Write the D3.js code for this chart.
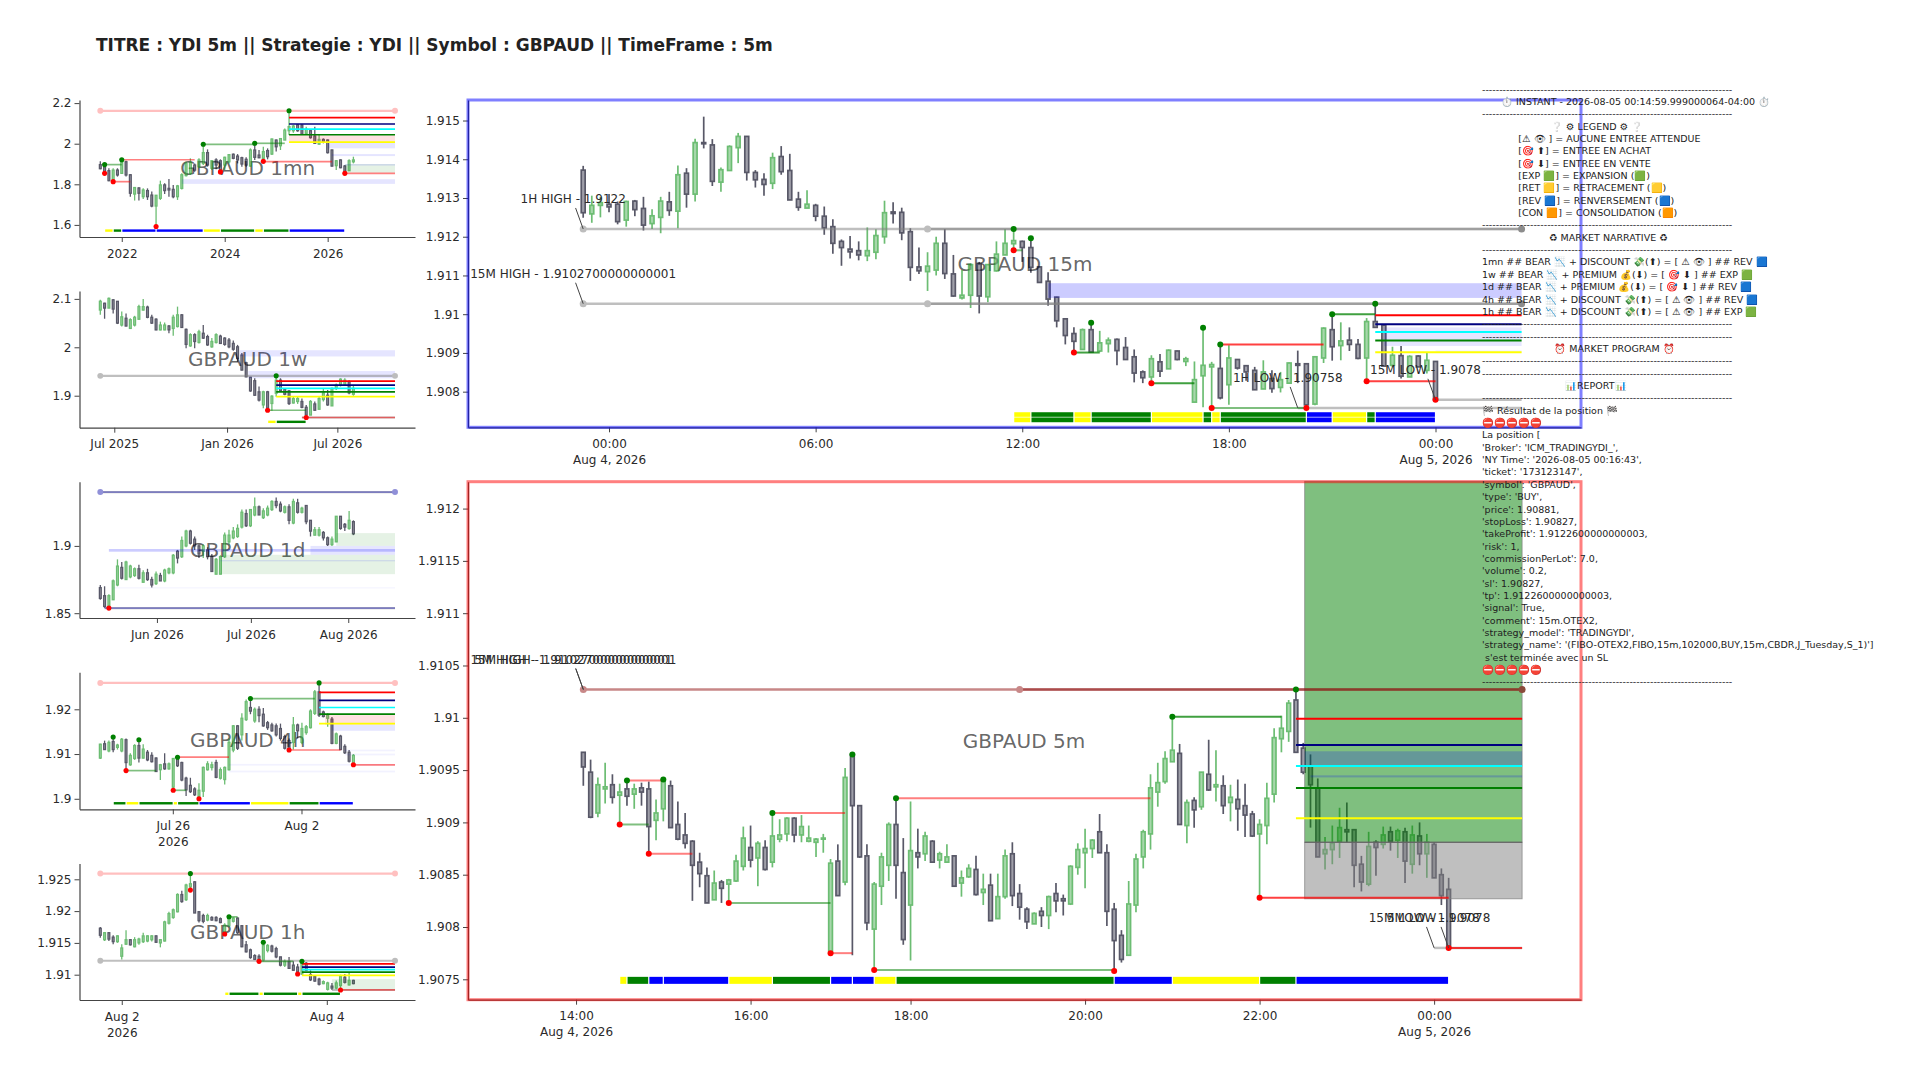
<!DOCTYPE html>
<html>
<head>
<meta charset="utf-8">
<script src="https://cdn.jsdelivr.net/npm/d3@7"></script>
<style>
body { margin: 0; background: #fff; }
text { font-family: "DejaVu Sans", sans-serif; }
</style>
</head>
<body>
<svg id="chart" width="1920" height="1080"></svg>
<script>
// candles are [open, high, low, close]
const candles1mn = [[1.897,1.913,1.874,1.877],[1.887,1.903,1.846,1.862],[1.867,1.879,1.815,1.818],[1.821,1.879,1.813,1.870],[1.870,1.879,1.838,1.846],[1.854,1.923,1.851,1.907],[1.911,1.916,1.838,1.846],[1.847,1.849,1.739,1.756],[1.752,1.785,1.720,1.784],[1.782,1.785,1.720,1.756],
[1.739,1.780,1.728,1.772],[1.769,1.780,1.723,1.739],[1.747,1.764,1.687,1.693],[1.693,1.747,1.592,1.746],[1.731,1.818,1.723,1.797],[1.797,1.805,1.752,1.769],[1.780,1.826,1.739,1.772],[1.775,1.797,1.731,1.739],[1.739,1.797,1.723,1.792],[1.780,1.854,1.775,1.847],
[1.843,1.911,1.838,1.903],[1.854,1.928,1.846,1.907],[1.895,1.903,1.862,1.870],[1.887,1.928,1.879,1.920],[1.903,1.998,1.895,1.956],[1.956,1.972,1.887,1.895],[1.879,1.920,1.870,1.916],[1.920,1.928,1.874,1.895],[1.916,1.923,1.862,1.870],[1.895,1.936,1.870,1.933],
[1.911,1.949,1.903,1.946],[1.948,1.952,1.923,1.928],[1.939,1.949,1.903,1.920],[1.931,1.936,1.887,1.900],[1.923,1.933,1.887,1.895],[1.890,1.977,1.887,1.969],[1.969,2.002,1.920,1.933],[1.944,1.969,1.928,1.931],[1.928,1.985,1.920,1.961],[1.966,1.977,1.923,1.936],
[1.949,2.026,1.944,2.023],[2.018,2.021,1.961,1.985],[1.990,2.026,1.969,2.025],[2.018,2.075,2.018,2.067],[2.064,2.162,2.043,2.084],[2.064,2.092,2.054,2.087],[2.093,2.097,2.059,2.064],[2.092,2.097,2.043,2.046],[2.051,2.084,2.046,2.071],[2.064,2.071,2.025,2.030],
[2.038,2.084,1.998,2.002],[1.998,2.043,1.995,2.021],[2.021,2.026,2.002,2.010],[2.018,2.021,1.952,1.956],[1.969,1.972,1.887,1.890],[1.892,1.920,1.870,1.916],[1.920,1.923,1.879,1.882],[1.890,1.895,1.851,1.862],[1.867,1.923,1.866,1.916],[1.911,1.936,1.903,1.920]];

const candles1w = [[2.077,2.098,2.067,2.095],[2.091,2.092,2.059,2.081],[2.081,2.103,2.081,2.101],[2.098,2.100,2.070,2.079],[2.095,2.095,2.048,2.050],[2.046,2.074,2.043,2.063],[2.060,2.070,2.043,2.044],[2.039,2.060,2.038,2.057],[2.046,2.065,2.043,2.062],[2.058,2.088,2.057,2.084],
[2.077,2.100,2.076,2.084],[2.083,2.086,2.060,2.062],[2.062,2.067,2.048,2.050],[2.058,2.060,2.035,2.036],[2.036,2.053,2.035,2.046],[2.036,2.051,2.035,2.046],[2.044,2.046,2.029,2.036],[2.039,2.067,2.024,2.062],[2.043,2.084,2.041,2.067],[2.067,2.069,2.041,2.041],
[2.037,2.039,1.998,2.006],[2.003,2.029,2.001,2.026],[2.026,2.029,1.998,2.012],[2.010,2.036,2.008,2.032],[2.029,2.046,2.017,2.019],[2.022,2.026,2.003,2.005],[2.001,2.019,1.999,2.012],[2.010,2.029,2.008,2.026],[2.023,2.026,2.007,2.008],[2.019,2.021,2.003,2.006],
[2.015,2.019,1.998,2.001],[2.008,2.014,1.993,1.996],[2.001,2.005,1.970,1.977],[1.984,1.988,1.952,1.953],[1.968,1.970,1.938,1.939],[1.938,1.939,1.908,1.910],[1.931,1.936,1.900,1.901],[1.908,1.919,1.888,1.891],[1.881,1.910,1.874,1.908],[1.908,1.910,1.869,1.874],
[1.884,1.901,1.869,1.899],[1.905,1.945,1.898,1.932],[1.932,1.936,1.908,1.910],[1.913,1.915,1.901,1.903],[1.910,1.912,1.881,1.884],[1.885,1.898,1.884,1.894],[1.888,1.898,1.883,1.894],[1.888,1.894,1.874,1.876],[1.876,1.881,1.855,1.860],[1.860,1.891,1.860,1.888],
[1.883,1.888,1.869,1.870],[1.872,1.898,1.872,1.894],[1.892,1.915,1.888,1.906],[1.901,1.912,1.879,1.881],[1.879,1.917,1.879,1.915],[1.915,1.925,1.912,1.922],[1.922,1.936,1.919,1.934],[1.922,1.936,1.920,1.932],[1.929,1.932,1.903,1.906],[1.903,1.922,1.900,1.915]];

const candles1d = [[1.869,1.871,1.860,1.861],[1.863,1.870,1.854,1.855],[1.855,1.864,1.854,1.863],[1.860,1.875,1.860,1.874],[1.871,1.890,1.870,1.885],[1.884,1.888,1.875,1.876],[1.875,1.889,1.875,1.888],[1.877,1.886,1.876,1.885],[1.878,1.884,1.877,1.883],[1.883,1.886,1.875,1.876],
[1.873,1.882,1.873,1.880],[1.880,1.883,1.874,1.875],[1.875,1.877,1.869,1.871],[1.872,1.881,1.871,1.879],[1.878,1.880,1.874,1.874],[1.874,1.883,1.873,1.882],[1.880,1.884,1.879,1.883],[1.880,1.894,1.879,1.893],[1.896,1.897,1.887,1.891],[1.892,1.907,1.891,1.904],
[1.900,1.912,1.899,1.911],[1.911,1.912,1.901,1.902],[1.905,1.907,1.897,1.900],[1.900,1.901,1.891,1.894],[1.896,1.901,1.891,1.900],[1.897,1.899,1.890,1.892],[1.892,1.894,1.881,1.881],[1.879,1.891,1.879,1.890],[1.879,1.893,1.879,1.892],[1.892,1.910,1.891,1.908],
[1.903,1.912,1.901,1.908],[1.906,1.914,1.905,1.911],[1.907,1.916,1.906,1.913],[1.914,1.927,1.913,1.925],[1.924,1.927,1.914,1.915],[1.915,1.927,1.914,1.927],[1.923,1.936,1.922,1.929],[1.929,1.930,1.923,1.923],[1.921,1.928,1.920,1.926],[1.923,1.930,1.922,1.928],
[1.927,1.934,1.926,1.933],[1.933,1.936,1.928,1.930],[1.931,1.933,1.925,1.926],[1.925,1.930,1.924,1.929],[1.929,1.931,1.916,1.919],[1.917,1.935,1.916,1.933],[1.932,1.935,1.924,1.925],[1.925,1.929,1.924,1.928],[1.930,1.930,1.916,1.918],[1.919,1.919,1.907,1.911],
[1.908,1.914,1.908,1.912],[1.908,1.914,1.907,1.912],[1.910,1.911,1.904,1.906],[1.906,1.907,1.900,1.901],[1.901,1.907,1.900,1.905],[1.903,1.922,1.903,1.922],[1.922,1.922,1.912,1.913],[1.916,1.917,1.911,1.914],[1.913,1.926,1.912,1.919],[1.918,1.919,1.908,1.909]];

const candles4h = [[1.9091,1.9123,1.9089,1.9122],[1.9123,1.9130,1.9109,1.9110],[1.9107,1.9130,1.9104,1.9126],[1.9128,1.9138,1.9104,1.9110],[1.9115,1.9123,1.9110,1.9120],[1.9107,1.9136,1.9104,1.9133],[1.9132,1.9135,1.9063,1.9081],[1.9076,1.9102,1.9074,1.9097],[1.9090,1.9122,1.9087,1.9119],[1.9119,1.9131,1.9081,1.9091],
[1.9091,1.9122,1.9090,1.9111],[1.9104,1.9109,1.9084,1.9087],[1.9097,1.9104,1.9081,1.9083],[1.9091,1.9093,1.9061,1.9061],[1.9065,1.9078,1.9042,1.9076],[1.9078,1.9102,1.9065,1.9067],[1.9067,1.9081,1.9065,1.9078],[1.9026,1.9091,1.9019,1.9090],[1.9090,1.9093,1.9071,1.9074],[1.9081,1.9083,1.9039,1.9042],
[1.9046,1.9049,1.9006,1.9020],[1.9030,1.9047,1.9013,1.9016],[1.9022,1.9026,1.9006,1.9009],[1.9004,1.9035,1.9000,1.9019],[1.9017,1.9072,1.9004,1.9070],[1.9065,1.9084,1.9063,1.9078],[1.9070,1.9083,1.9063,1.9076],[1.9081,1.9087,1.9046,1.9048],[1.9046,1.9070,1.9043,1.9065],[1.9043,1.9072,1.9032,1.9070],
[1.9065,1.9135,1.9063,1.9126],[1.9109,1.9165,1.9104,1.9163],[1.9163,1.9165,1.9109,1.9113],[1.9143,1.9191,1.9130,1.9180],[1.9177,1.9222,1.9174,1.9217],[1.9204,1.9224,1.9189,1.9196],[1.9174,1.9204,1.9170,1.9200],[1.9200,1.9207,1.9171,1.9186],[1.9189,1.9203,1.9161,1.9163],[1.9170,1.9174,1.9154,1.9159],
[1.9165,1.9170,1.9150,1.9152],[1.9163,1.9168,1.9139,1.9143],[1.9157,1.9168,1.9130,1.9135],[1.9139,1.9143,1.9110,1.9113],[1.9130,1.9135,1.9109,1.9110],[1.9126,1.9183,1.9110,1.9165],[1.9165,1.9168,1.9135,1.9152],[1.9126,1.9170,1.9122,1.9157],[1.9148,1.9165,1.9143,1.9161],[1.9159,1.9200,1.9157,1.9196],
[1.9191,1.9243,1.9187,1.9239],[1.9239,1.9259,1.9183,1.9187],[1.9194,1.9197,1.9182,1.9184],[1.9180,1.9191,1.9161,1.9187],[1.9178,1.9183,1.9122,1.9124],[1.9124,1.9148,1.9122,1.9145],[1.9140,1.9143,1.9109,1.9110],[1.9117,1.9122,1.9100,1.9103],[1.9104,1.9109,1.9081,1.9084],[1.9076,1.9100,1.9074,1.9097]];

const candles1h = [[1.9173,1.9175,1.9158,1.9162],[1.9155,1.9167,1.9153,1.9166],[1.9166,1.9167,1.9153,1.9156],[1.9159,1.9162,1.9148,1.9152],[1.9152,1.9162,1.9150,1.9161],[1.9129,1.9148,1.9124,1.9142],[1.9148,1.9170,1.9147,1.9155],[1.9155,1.9156,1.9146,1.9147],[1.9144,1.9159,1.9143,1.9155],[1.9150,1.9158,1.9147,1.9156],
[1.9152,1.9166,1.9150,1.9161],[1.9153,1.9162,1.9151,1.9161],[1.9155,1.9162,1.9152,1.9161],[1.9161,1.9162,1.9150,1.9151],[1.9150,1.9156,1.9143,1.9155],[1.9153,1.9185,1.9152,1.9183],[1.9181,1.9199,1.9179,1.9196],[1.9190,1.9204,1.9188,1.9202],[1.9199,1.9228,1.9198,1.9226],[1.9226,1.9232,1.9213,1.9215],
[1.9218,1.9243,1.9216,1.9241],[1.9238,1.9259,1.9233,1.9243],[1.9246,1.9247,1.9197,1.9197],[1.9199,1.9200,1.9182,1.9185],[1.9193,1.9196,1.9181,1.9184],[1.9186,1.9196,1.9184,1.9193],[1.9190,1.9192,1.9185,1.9186],[1.9190,1.9192,1.9184,1.9185],[1.9188,1.9190,1.9181,1.9182],[1.9166,1.9181,1.9162,1.9178],
[1.9177,1.9191,1.9175,1.9189],[1.9184,1.9190,1.9182,1.9189],[1.9189,1.9190,1.9164,1.9166],[1.9177,1.9178,1.9143,1.9144],[1.9147,1.9153,1.9135,1.9136],[1.9139,1.9141,1.9125,1.9127],[1.9130,1.9132,1.9123,1.9124],[1.9129,1.9132,1.9121,1.9123],[1.9123,1.9150,1.9121,1.9146],[1.9138,1.9148,1.9135,1.9146],
[1.9145,1.9147,1.9135,1.9137],[1.9141,1.9144,1.9126,1.9128],[1.9128,1.9128,1.9113,1.9115],[1.9115,1.9124,1.9112,1.9121],[1.9121,1.9128,1.9109,1.9110],[1.9115,1.9121,1.9106,1.9107],[1.9112,1.9117,1.9101,1.9104],[1.9101,1.9121,1.9100,1.9120],[1.9118,1.9120,1.9106,1.9107],[1.9100,1.9107,1.9090,1.9092],
[1.9097,1.9098,1.9089,1.9090],[1.9093,1.9095,1.9083,1.9085],[1.9086,1.9091,1.9085,1.9089],[1.9077,1.9089,1.9075,1.9087],[1.9082,1.9087,1.9076,1.9079],[1.9079,1.9091,1.9077,1.9087],[1.9083,1.9100,1.9076,1.9097],[1.9096,1.9101,1.9086,1.9088],[1.9084,1.9104,1.9083,1.9091],[1.9091,1.9092,1.9085,1.9086]];

const candles15m = [[1.91372,1.91383,1.91249,1.91262],[1.91259,1.91306,1.91236,1.91281],[1.91281,1.91303,1.91250,1.91288],[1.91284,1.91310,1.91263,1.91277],[1.91284,1.91291,1.91232,1.91239],[1.91243,1.91293,1.91226,1.91291],[1.91292,1.91295,1.91253,1.91270],[1.91273,1.91303,1.91216,1.91230],[1.91234,1.91271,1.91220,1.91254],[1.91250,1.91303,1.91209,1.91292],
[1.91290,1.91316,1.91254,1.91268],[1.91266,1.91384,1.91222,1.91360],[1.91364,1.91377,1.91275,1.91310],[1.91310,1.91453,1.91291,1.91443],[1.91443,1.91510,1.91428,1.91440],[1.91437,1.91452,1.91331,1.91343],[1.91341,1.91379,1.91316,1.91373],[1.91371,1.91436,1.91371,1.91433],[1.91430,1.91468,1.91390,1.91459],[1.91459,1.91460,1.91345,1.91366],
[1.91366,1.91372,1.91327,1.91347],[1.91348,1.91364,1.91306,1.91335],[1.91338,1.91417,1.91323,1.91404],[1.91407,1.91434,1.91360,1.91368],[1.91371,1.91414,1.91295,1.91295],[1.91297,1.91316,1.91267,1.91276],[1.91274,1.91320,1.91274,1.91284],[1.91281,1.91285,1.91240,1.91253],[1.91253,1.91278,1.91205,1.91223],[1.91226,1.91245,1.91156,1.91183],
[1.91188,1.91193,1.91125,1.91172],[1.91168,1.91202,1.91144,1.91161],[1.91164,1.91188,1.91139,1.91153],[1.91151,1.91224,1.91137,1.91164],[1.91160,1.91219,1.91142,1.91203],[1.91200,1.91293,1.91182,1.91262],[1.91264,1.91289,1.91234,1.91260],[1.91263,1.91275,1.91191,1.91210],[1.91213,1.91222,1.91086,1.91121],[1.91122,1.91172,1.91104,1.91112],
[1.91110,1.91160,1.91060,1.91124],[1.91114,1.91200,1.91100,1.91183],[1.91183,1.91220,1.91091,1.91105],[1.91104,1.91153,1.91045,1.91047],[1.91042,1.91114,1.91038,1.91049],[1.91049,1.91131,1.91016,1.91128],[1.91129,1.91135,1.91002,1.91047],[1.91045,1.91129,1.91031,1.91128],[1.91112,1.91188,1.91110,1.91155],[1.91153,1.91220,1.91153,1.91183],
[1.91182,1.91220,1.91164,1.91190],[1.91188,1.91190,1.91135,1.91172],[1.91172,1.91196,1.91107,1.91121],[1.91122,1.91124,1.91082,1.91082],[1.91085,1.91108,1.91022,1.91039],[1.91044,1.91045,1.90966,1.90983],[1.90988,1.90990,1.90922,1.90945],[1.90950,1.90966,1.90901,1.90930],[1.90909,1.90963,1.90909,1.90960],[1.90960,1.90978,1.90902,1.90902],
[1.90905,1.90957,1.90902,1.90926],[1.90924,1.90940,1.90901,1.90933],[1.90935,1.90937,1.90868,1.90906],[1.90914,1.90941,1.90883,1.90883],[1.90890,1.90909,1.90824,1.90848],[1.90851,1.90855,1.90822,1.90836],[1.90838,1.90894,1.90825,1.90885],[1.90877,1.90897,1.90838,1.90853],[1.90859,1.90909,1.90859,1.90907],[1.90905,1.90906,1.90881,1.90883],
[1.90878,1.90890,1.90866,1.90885],[1.90773,1.90878,1.90773,1.90831],[1.90841,1.90965,1.90760,1.90868],[1.90864,1.90877,1.90758,1.90870],[1.90860,1.90922,1.90780,1.90784],[1.90818,1.90920,1.90766,1.90887],[1.90883,1.90883,1.90857,1.90861],[1.90867,1.90868,1.90828,1.90851],[1.90855,1.90864,1.90805,1.90805],[1.90807,1.90881,1.90807,1.90851],
[1.90834,1.90855,1.90797,1.90808],[1.90811,1.90851,1.90798,1.90831],[1.90822,1.90875,1.90821,1.90874],[1.90872,1.90906,1.90822,1.90868],[1.90872,1.90872,1.90758,1.90766],[1.90768,1.90891,1.90765,1.90890],[1.90887,1.90966,1.90874,1.90964],[1.90960,1.91000,1.90880,1.90916],[1.90919,1.90979,1.90881,1.90931],[1.90933,1.90966,1.90905,1.90922],
[1.90922,1.90936,1.90884,1.90886],[1.90887,1.90990,1.90827,1.90981],[1.90981,1.91027,1.90966,1.90966],[1.90972,1.90972,1.90866,1.90866],[1.90868,1.90916,1.90864,1.90894],[1.90893,1.90918,1.90834,1.90840],[1.90838,1.90894,1.90838,1.90891],[1.90892,1.90894,1.90864,1.90864],[1.90855,1.90900,1.90847,1.90881],[1.90878,1.90878,1.90779,1.90779]];

const candles5m = [[1.90967,1.90967,1.90935,1.90953],[1.90948,1.90960,1.90904,1.90905],[1.90909,1.90943,1.90905,1.90936],[1.90932,1.90957,1.90918,1.90934],[1.90936,1.90946,1.90918,1.90924],[1.90926,1.90937,1.90898,1.90929],[1.90932,1.90940,1.90916,1.90925],[1.90927,1.90937,1.90913,1.90932],[1.90933,1.90938,1.90916,1.90929],[1.90932,1.90939,1.90870,1.90896],
[1.90902,1.90922,1.90883,1.90909],[1.90913,1.90941,1.90901,1.90941],[1.90935,1.90940,1.90895,1.90895],[1.90898,1.90920,1.90883,1.90884],[1.90888,1.90909,1.90875,1.90880],[1.90882,1.90883,1.90825,1.90859],[1.90862,1.90871,1.90838,1.90851],[1.90849,1.90857,1.90823,1.90823],[1.90826,1.90854,1.90826,1.90842],[1.90843,1.90845,1.90823,1.90837],
[1.90841,1.90846,1.90823,1.90845],[1.90844,1.90869,1.90843,1.90863],[1.90858,1.90896,1.90854,1.90885],[1.90876,1.90897,1.90857,1.90864],[1.90866,1.90882,1.90839,1.90880],[1.90876,1.90883,1.90854,1.90855],[1.90862,1.90909,1.90857,1.90887],[1.90884,1.90903,1.90881,1.90888],[1.90889,1.90905,1.90882,1.90904],[1.90904,1.90905,1.90881,1.90888],
[1.90888,1.90907,1.90881,1.90896],[1.90882,1.90897,1.90881,1.90885],[1.90881,1.90885,1.90867,1.90884],[1.90884,1.90889,1.90871,1.90885],[1.90776,1.90865,1.90775,1.90861],[1.90863,1.90879,1.90830,1.90830],[1.90843,1.90952,1.90840,1.90943],[1.90965,1.90965,1.90773,1.90916],[1.90916,1.90916,1.90866,1.90867],[1.90868,1.90879,1.90797,1.90804],
[1.90798,1.90843,1.90759,1.90841],[1.90839,1.90871,1.90821,1.90867],[1.90859,1.90900,1.90844,1.90898],[1.90898,1.90923,1.90827,1.90859],[1.90852,1.90885,1.90783,1.90788],[1.90821,1.90920,1.90768,1.90873],[1.90871,1.90894,1.90856,1.90867],[1.90870,1.90891,1.90863,1.90887],[1.90882,1.90883,1.90862,1.90862],[1.90864,1.90872,1.90856,1.90870],
[1.90862,1.90879,1.90862,1.90867],[1.90868,1.90868,1.90839,1.90839],[1.90842,1.90854,1.90829,1.90847],[1.90848,1.90860,1.90847,1.90856],[1.90855,1.90868,1.90830,1.90831],[1.90833,1.90851,1.90821,1.90836],[1.90840,1.90851,1.90806,1.90806],[1.90808,1.90851,1.90808,1.90829],[1.90829,1.90874,1.90827,1.90868],[1.90870,1.90881,1.90820,1.90830],
[1.90832,1.90841,1.90807,1.90819],[1.90817,1.90819,1.90798,1.90805],[1.90803,1.90814,1.90803,1.90813],[1.90815,1.90819,1.90800,1.90811],[1.90811,1.90830,1.90798,1.90829],[1.90832,1.90842,1.90814,1.90825],[1.90827,1.90831,1.90811,1.90825],[1.90822,1.90859,1.90821,1.90858],[1.90857,1.90880,1.90850,1.90874],[1.90871,1.90894,1.90837,1.90875],
[1.90875,1.90884,1.90866,1.90883],[1.90891,1.90908,1.90871,1.90871],[1.90871,1.90879,1.90801,1.90815],[1.90817,1.90823,1.90758,1.90787],[1.90792,1.90797,1.90766,1.90769],[1.90773,1.90844,1.90773,1.90822],[1.90821,1.90870,1.90814,1.90865],[1.90867,1.90893,1.90856,1.90891],[1.90889,1.90946,1.90874,1.90933],[1.90929,1.90957,1.90915,1.90938],
[1.90939,1.90968,1.90937,1.90961],[1.90958,1.91001,1.90958,1.90969],[1.90966,1.90975,1.90898,1.90898],[1.90897,1.90922,1.90880,1.90919],[1.90921,1.90924,1.90895,1.90912],[1.90915,1.90948,1.90912,1.90948],[1.90946,1.90979,1.90930,1.90931],[1.90934,1.90969,1.90920,1.90936],[1.90935,1.90945,1.90908,1.90916],[1.90919,1.90936,1.90901,1.90924],
[1.90922,1.90941,1.90892,1.90913],[1.90916,1.90937,1.90886,1.90907],[1.90908,1.90911,1.90886,1.90887],[1.90889,1.90903,1.90828,1.90898],[1.90897,1.90938,1.90879,1.90923],[1.90927,1.90990,1.90919,1.90981],[1.90980,1.91002,1.90967,1.90990],[1.90987,1.91017,1.90977,1.91014],[1.91017,1.91026,1.90967,1.90967],[1.90971,1.90976,1.90946,1.90948],
[1.90954,1.90965,1.90895,1.90936],[1.90933,1.90942,1.90867,1.90867],[1.90870,1.90886,1.90855,1.90874],[1.90874,1.90897,1.90860,1.90880],[1.90882,1.90914,1.90866,1.90895],[1.90893,1.90919,1.90881,1.90891],[1.90893,1.90893,1.90838,1.90859],[1.90860,1.90868,1.90834,1.90843],[1.90841,1.90891,1.90839,1.90877],[1.90881,1.90883,1.90849,1.90876],
[1.90879,1.90896,1.90875,1.90888],[1.90891,1.90896,1.90873,1.90882],[1.90883,1.90894,1.90866,1.90892],[1.90891,1.90895,1.90842,1.90863],[1.90860,1.90897,1.90851,1.90888],[1.90887,1.90900,1.90859,1.90870],[1.90870,1.90889,1.90847,1.90881],[1.90879,1.90881,1.90847,1.90847],[1.90850,1.90856,1.90821,1.90830],[1.90836,1.90847,1.90780,1.90780]];

// zones: [from candle, to candle, low, high, kind]
const zones1mn = [[44,68.7,2.005,2.042,"pink"],[53,68.7,1.977,2.005,"blue"],[54,68.7,1.939,1.949,"blue"],[57,68.7,1.857,1.900,"green"],[57,68.7,1.892,1.900,"blue"],[19,68.7,1.802,1.825,"blue"]];
const zones1w = [[32.5,68.7,1.981,1.994,"blue"],[34.5,68.7,1.936,1.951,"blue"]];
const zones1d = [[2,68.7,1.8957,1.8977,"blueStrong"],[28,68.7,1.8790,1.8934,"green"],[55,68.7,1.9000,1.9095,"green"],[49,68.7,1.8934,1.9000,"blue"],[28,68.7,1.8885,1.8895,"blue"],[3,68.7,1.8684,1.8692,"pale"]];
const zones4h = [[52.4,68.7,1.9165,1.9187,"pink"],[54,68.7,1.9152,1.9165,"blue"],[57,68.7,1.9106,1.9110,"pale"],[57,68.7,1.9097,1.9101,"pale"],[30,68.7,1.9074,1.9078,"pale"],[30,68.7,1.9059,1.9063,"pale"]];
const zones1h = [[54,68.7,1.9077,1.9093,"green"]];
const zones15m = [[54,109,1.91042,1.91080,"blueStrong"],[93,109,1.90918,1.90966,"blue"],[99,109,1.90900,1.90907,"pale"]];
const zones5m = [[99.2,129.1,1.90954,1.90968,"blueStrong"],[100,129.1,1.90943,1.90945,"blueStrong"]];

// horizontal levels: [from candle, to candle, price, kind]
const levels1mn = [[0,68.7,2.162,"pinkLine"],[1,5,1.897,"swingUp"],[24,36,1.997,"swingUp"],[36,43,2.002,"swingUp"],[3,7,1.813,"swingDown"],[5,22,1.921,"swingDown"],[38,54,1.912,"swingDown"],[57,68.7,1.854,"swingDown"],
  [44,68.7,2.128,"red"],[44,68.7,2.097,"navy"],[44,68.7,2.072,"cyan"],[44,68.7,2.044,"lime"],[44,68.7,2.008,"yellow"]];
const levels1w = [[0,68.7,1.941,"grayLine"],[39,48,1.870,"swingUp"],[47,68.7,1.855,"grayLine"],[47,68.7,1.855,"swingDown"],
  [41,68.7,1.930,"red"],[41,68.7,1.922,"navy"],[41,68.7,1.915,"cyan"],[41,68.7,1.908,"lime"],[41,68.7,1.898,"yellow"]];
const levels1d = [[0,68.7,1.940,"grayLine"],[0,68.7,1.940,"blueLine"],[1,68.7,1.8538,"grayLine"],[1,68.7,1.8538,"blueLine"]];
const levels4h = [[0,68.7,1.9259,"pinkLine"],[6,13,1.9063,"swingUp"],[17,20,1.9019,"swingUp"],[35,50,1.9224,"swingUp"],[18,30,1.9093,"swingDown"],[44,56,1.9109,"swingDown"],[59,68.7,1.9076,"swingDown"],
  [51,68.7,1.9238,"red"],[51,68.7,1.9220,"navy"],[51,68.7,1.9204,"cyan"],[51,68.7,1.9189,"lime"],[51,68.7,1.9168,"yellow"]];
const levels1h = [[0,68.7,1.9259,"pinkLine"],[0,68.7,1.9122,"grayLine"],[37,45,1.9121,"swingUp"],[30,32,1.9191,"swingUp"],[54,68.7,1.9076,"grayLine"],[56,68.7,1.9076,"swingDown"],
  [47,68.7,1.9117,"red"],[47,68.7,1.9112,"navy"],[47,68.7,1.9108,"cyan"],[47,68.7,1.9104,"lime"],[47,68.7,1.9099,"yellow"]];
const levels15m = [[0,109,1.9122,"grayLine"],[40,109,1.9122,"grayLine"],[0,109,1.91027,"grayLine"],[40,109,1.91027,"grayLine"],[83,109,1.90758,"grayLine"],[99,109,1.90779,"grayLine"],
  [50,51,1.91165,"swingUp"],[57,60,1.90901,"swingUpStrong"],[66,71,1.90822,"swingUpStrong"],[73,84,1.90758,"swingUp"],[87,92,1.91000,"swingUpStrong"],[74,86,1.90922,"swingDownStrong"],[91,99,1.90827,"swingDownStrong"],
  [92,109,1.90997,"red"],[92,109,1.90974,"navy"],[92,109,1.90954,"cyan"],[92,109,1.90932,"lime"],[92,109,1.90902,"yellow"]];
const levels5m = [[0,129.1,1.91027,"rosyLine"],[60,129.1,1.91027,"rosyLine"],[5,9,1.90898,"swingUp"],[20,34,1.90823,"swingUp"],[40,73,1.90759,"swingUp"],[81,96,1.91001,"swingUpStrong"],
  [6,11,1.90940,"swingDown"],[9,15,1.90870,"swingDown"],[26,36,1.90909,"swingDown"],[34,37,1.90775,"swingDown"],[43,78,1.90923,"swingDown"],[93,119,1.90828,"swingDownStrong"],[117,119,1.90780,"grayLine"],[119,129.1,1.90780,"grayLine"],[119,129.1,1.90780,"swingDownStrong"],
  [98,129.1,1.90999,"red"],[98,129.1,1.90974,"navy"],[98,129.1,1.90954,"cyan"],[98,129.1,1.90933,"lime"],[98,129.1,1.90904,"yellow"]];

// swing and end markers: [candle, price, kind]
const dots1mn = [[1,1.897,"high"],[5,1.921,"high"],[24,1.997,"high"],[36,2.002,"high"],[44,2.162,"high"],[1,1.854,"low"],[3,1.813,"low"],[13,1.592,"low"],[28,1.861,"low"],[38,1.913,"low"],[57,1.854,"low"],[0,2.162,"pink"],[68.7,2.162,"pink"]];
const dots1w = [[41,1.941,"high"],[39,1.870,"low"],[48,1.855,"low"],[0,1.941,"gray"],[68.7,1.941,"gray"]];
const dots1d = [[2,1.8538,"low"],[0,1.940,"blue"],[68.7,1.940,"blue"]];
const dots4h = [[3,1.9138,"high"],[9,1.9132,"high"],[18,1.9093,"high"],[35,1.9224,"high"],[51,1.9259,"high"],[6,1.9063,"low"],[17,1.9019,"low"],[23,1.9000,"low"],[44,1.9109,"low"],[59,1.9076,"low"],[0,1.9259,"pink"],[68.7,1.9259,"pink"]];
const dots1h = [[21,1.9259,"high"],[30,1.9191,"high"],[38,1.9151,"high"],[47,1.9121,"high"],[21,1.9233,"low"],[29,1.9164,"low"],[37,1.9121,"low"],[46,1.9101,"low"],[56,1.9076,"low"],[0,1.9259,"pink"],[68.7,1.9259,"pink"],[0,1.9122,"gray"],[68.7,1.9122,"gray"]];
const dots15m = [[50,1.9122,"high"],[52,1.91196,"high"],[59,1.90978,"high"],[72,1.90965,"high"],[74,1.90922,"high"],[87,1.91000,"high"],[92,1.91027,"high"],[50,1.91165,"low"],[57,1.90901,"low"],[66,1.90822,"low"],[73,1.90758,"low"],[84,1.90758,"low"],[91,1.90827,"low"],[99,1.90779,"low"],
  [0,1.9122,"gray"],[40,1.9122,"gray"],[109,1.9122,"darkGray"],[0,1.91027,"gray"],[40,1.91027,"gray"],[109,1.91027,"darkGray"]];
const dots5m = [[6,1.90940,"high"],[11,1.90941,"high"],[26,1.90909,"high"],[37,1.90965,"high"],[43,1.90923,"high"],[81,1.91001,"high"],[98,1.91027,"high"],[5,1.90898,"low"],[9,1.90870,"low"],[20,1.90823,"low"],[34,1.90775,"low"],[40,1.90759,"low"],[73,1.90758,"low"],[93,1.90828,"low"],[119,1.90780,"low"],
  [0,1.91027,"rosy"],[60,1.91027,"rosy"],[129.1,1.91027,"darkRosy"]];

// market phase strip: [from candle, to candle, phase]
const phases1mn = [[1,3,"ret"],[3,5,"exp"],[5,13,"rev"],[13,24,"rev"],[24,28,"ret"],[28,36,"exp"],[36,38,"ret"],[38,44,"exp"],[44,57,"rev"]];
const phases1w = [[39,41,"ret"],[41,48,"exp"]];
const phases4h = [[3,6,"exp"],[6,9,"ret"],[9,17,"exp"],[17,18,"ret"],[18,23,"exp"],[23,35,"rev"],[35,44,"ret"],[44,51,"exp"],[51,59,"rev"]];
const phases1h = [[29,30,"ret"],[30,37,"exp"],[37,38,"ret"],[38,46,"exp"],[46,47,"ret"],[47,56,"exp"]];
const phases15m = [[50,52,"ret"],[52,57,"exp"],[57,59,"ret"],[59,66,"exp"],[66,72,"ret"],[72,73,"exp"],[73,74,"ret"],[74,84,"exp"],[84,87,"rev"],[87,91,"ret"],[91,92,"exp"],[92,99,"rev"]];
const phases5m = [[5,6,"ret"],[6,9,"exp"],[9,11,"rev"],[11,20,"rev"],[20,26,"ret"],[26,34,"exp"],[34,37,"rev"],[37,40,"rev"],[40,43,"ret"],[43,73,"exp"],[73,81,"rev"],[81,93,"ret"],[93,98,"exp"],[98,119,"rev"]];

// annotated levels: [candle, price, text]
const notes15m = [[0,1.9122,"1H HIGH - 1.9122"],[0,1.91027,"15M HIGH - 1.9102700000000001"],[83,1.90758,"1H LOW - 1.90758"],[99,1.90779,"15M LOW - 1.9078"]];
const notes5m = [[0,1.91027,"15M HIGH - 1.9102700000000001"],[0,1.91027,"5M HIGH - 1.9102700000000001"],[117,1.9078,"15M LOW - 1.9078"],[119,1.9078,"5M LOW - 1.9078"]];

// trade of the 5m chart
const entryPrice = 1.90881, stopPrice = 1.90827, targetPrice = 1.91226;
const tradeFrom = 99.2, tradeTo = 129.1;

const ticks1mn = [1.6,1.8,2,2.2], ticks1w = [1.9,2,2.1], ticks1d = [1.85,1.9], ticks4h = [1.9,1.91,1.92], ticks1h = [1.91,1.915,1.92,1.925];
const ticks15m = [1.908,1.909,1.91,1.911,1.912,1.913,1.914,1.915];
const ticks5m = [1.9075,1.908,1.9085,1.909,1.9095,1.91,1.9105,1.911,1.9115,1.912];
const xTicks1mn = [[5,"2022"],[29,"2024"],[53,"2026"]];
const xTicks1w = [[3.26,"Jul 2025"],[29.55,"Jan 2026"],[55.26,"Jul 2026"]];
const xTicks1d = [[13.2,"Jun 2026"],[35.1,"Jul 2026"],[57.8,"Aug 2026"]];
const xTicks4h = [[16.9,"Jul 26\n2026"],[46.9,"Aug 2"]];
const xTicks1h = [[5,"Aug 2\n2026"],[52.8,"Aug 4"]];
const xTicks15m = [[3,"00:00\nAug 4, 2026"],[27,"06:00"],[51,"12:00"],[75,"18:00"],[99,"00:00\nAug 5, 2026"]];
const xTicks5m = [[-1,"14:00\nAug 4, 2026"],[23,"16:00"],[45,"18:00"],[69,"20:00"],[93,"22:00"],[117,"00:00\nAug 5, 2026"]];

const dash = "-".repeat(73);
const reportLines = [dash,
"⏱️ INSTANT - 2026-08-05 00:14:59.999000064-04:00 ⏱️",dash,"❔ ⚙ LEGEND ⚙ ❔",
"[⚠ 👁 ] = AUCUNE ENTREE ATTENDUE","[🎯 ⬆] = ENTREE EN ACHAT","[🎯 ⬇] = ENTREE EN VENTE","[EXP 🟩] = EXPANSION (🟩)","[RET 🟨] = RETRACEMENT (🟨)","[REV 🟦] = RENVERSEMENT (🟦)","[CON 🟧] = CONSOLIDATION (🟧)",dash,
"♻ MARKET NARRATIVE ♻",dash,
"1mn ## BEAR 📉 + DISCOUNT 💸(⬆) = [ ⚠ 👁 ] ## REV 🟦","1w ## BEAR 📉 + PREMIUM 💰(⬇) = [ 🎯 ⬇ ] ## EXP 🟩","1d ## BEAR 📉 + PREMIUM 💰(⬇) = [ 🎯 ⬇ ] ## REV 🟦","4h ## BEAR 📉 + DISCOUNT 💸(⬆) = [ ⚠ 👁 ] ## REV 🟦","1h ## BEAR 📉 + DISCOUNT 💸(⬆) = [ ⚠ 👁 ] ## EXP 🟩",dash,dash,
"⏰ MARKET PROGRAM ⏰",dash,dash,"📊REPORT📊",dash,"🏁 Résultat de la position 🏁","⛔⛔⛔⛔⛔","La position [",
"'Broker': 'ICM_TRADINGYDI_',","'NY Time': '2026-08-05 00:16:43',","'ticket': '173123147',","'symbol': 'GBPAUD',","'type': 'BUY',","'price': 1.90881,","'stopLoss': 1.90827,","'takeProfit': 1.9122600000000003,","'risk': 1,","'commissionPerLot': 7.0,","'volume': 0.2,","'sl': 1.90827,","'tp': 1.9122600000000003,","'signal': True,","'comment': 15m.OTEX2,","'strategy_model': 'TRADINGYDI',","'strategy_name': '(FIBO-OTEX2,FIBO,15m,102000,BUY,15m,CBDR,J_Tuesday,S_1)']",
" s'est terminée avec un SL","⛔⛔⛔⛔⛔",dash];
const reportIndent = {1:19,3:69,4:36.3,5:36.3,6:36.3,7:36.3,8:36.3,9:36.3,10:36.3,12:67,21:72.3,24:83};

const zoneStyle = {
  blue:{fill:"rgba(0,0,255,0.1)"}, blueStrong:{fill:"rgba(0,0,255,0.2)"}, pale:{fill:"rgba(0,0,255,0.05)"},
  green:{fill:"rgba(0,128,0,0.1)"}, pink:{fill:"rgba(255,0,0,0.12)"}
};
const levelStyle = {
  red:{stroke:"#ff0000",w:2,o:1}, navy:{stroke:"#000080",w:2,o:1}, cyan:{stroke:"#00ffff",w:2,o:1}, lime:{stroke:"#008000",w:2,o:1}, yellow:{stroke:"#ffff00",w:2,o:1},
  swingUp:{stroke:"#008000",w:2,o:0.5}, swingUpStrong:{stroke:"#008000",w:2,o:0.75}, swingDown:{stroke:"#ff0000",w:2,o:0.5}, swingDownStrong:{stroke:"#ff0000",w:2,o:0.75},
  pinkLine:{stroke:"#ff0000",w:2.5,o:0.25}, grayLine:{stroke:"#808080",w:2.5,o:0.5}, blueLine:{stroke:"#0000c0",w:2,o:0.35}, rosyLine:{stroke:"#901010",w:2.5,o:0.5}
};
const dotStyle = {high:{fill:"#008000",r:3},low:{fill:"#ff0000",r:3},pink:{fill:"#ffc0c0",r:3.5},gray:{fill:"#bdbdbd",r:3.5},darkGray:{fill:"#8c8c8c",r:3.5},blue:{fill:"#9090d8",r:3.5},rosy:{fill:"#c88888",r:3.5},darkRosy:{fill:"#8a4a3a",r:3.5}};
const phaseColor = {ret:"#ffff00",exp:"#008000",rev:"#0000ff"};

const svg = d3.select("#chart");

function drawPanel(p) {
  const x = d3.scaleLinear().domain(p.xDomain).range([p.left, p.right]);
  const y = d3.scaleLinear().domain(p.yDomain).range([p.bottom, p.top]);
  const g = svg.append("g");

  g.append("g").attr("transform", `translate(0,${p.bottom})`)
    .call(d3.axisBottom(x).tickValues(p.xTicks.map(d => d[0])).tickSize(5).tickSizeOuter(0)
      .tickFormat((d, i) => p.xTicks[i][1]))
    .call(a => a.selectAll(".tick text").each(function () {
      const t = d3.select(this), lines = t.text().split("\n");
      t.text(null).attr("y", 0).attr("dy", null);
      lines.forEach((l, i) => t.append("tspan").attr("x", 0).attr("y", 20.5 + i * 16).text(l));
    }));
  g.append("g").attr("transform", `translate(${p.left},0)`)
    .call(d3.axisLeft(y).tickValues(p.yTicks).tickSize(5).tickSizeOuter(0).tickFormat(d => String(d)));
  g.selectAll(".tick text").attr("font-size", 12).attr("fill", "#2a2a2a").style("font-family", '"DejaVu Sans"');
  g.selectAll(".domain, .tick line").attr("stroke", "#444").attr("stroke-width", 1);
  g.selectAll(".domain").attr("stroke-width", 1.2);

  // watermark
  g.append("text").attr("x", p.markX).attr("y", p.markY).attr("text-anchor", "middle").attr("dominant-baseline", "central")
    .attr("font-size", 20).attr("fill", "#555").attr("fill-opacity", 0.9).text(p.name);

  // candles
  const c = g.append("g").selectAll("g").data(p.candles).enter().append("g")
    .attr("opacity", 0.65);
  c.append("line")
    .attr("x1", (d, i) => x(i)).attr("x2", (d, i) => x(i))
    .attr("y1", d => y(d[1])).attr("y2", d => y(d[2]))
    .attr("stroke", d => d[3] >= d[0] ? "#1f9b29" : "#000018").attr("stroke-width", p.wick);
  c.append("rect")
    .attr("x", (d, i) => x(i) - p.bodyWidth / 2).attr("width", p.bodyWidth)
    .attr("y", d => y(Math.max(d[0], d[3]))).attr("height", d => Math.abs(y(d[0]) - y(d[3])))
    .attr("fill", d => d[3] >= d[0] ? "#79c37f" : "#6d6c7c")
    .attr("stroke", d => d[3] >= d[0] ? "#1f9b29" : "#000018").attr("stroke-width", p.wick);

  // zones over candles
  g.append("g").selectAll("rect").data(p.zones).enter().append("rect")
    .attr("x", d => x(d[0])).attr("width", d => x(d[1]) - x(d[0]))
    .attr("y", d => y(d[3])).attr("height", d => y(d[2]) - y(d[3]))
    .attr("fill", d => zoneStyle[d[4]].fill);

  if (p.trade) {
    const t = p.trade;
    g.append("rect").attr("x", x(t.from)).attr("width", x(t.to) - x(t.from))
      .attr("y", y(t.target)).attr("height", y(t.entry) - y(t.target))
      .attr("fill", "rgba(0,128,0,0.5)").attr("stroke", "rgba(128,128,128,0.7)").attr("stroke-width", 1);
    g.append("rect").attr("x", x(t.from)).attr("width", x(t.to) - x(t.from))
      .attr("y", y(t.entry)).attr("height", y(t.stop) - y(t.entry))
      .attr("fill", "rgba(128,128,128,0.5)").attr("stroke", "rgba(128,128,128,0.7)").attr("stroke-width", 1);
    g.append("line").attr("x1", x(t.from)).attr("x2", x(t.to)).attr("y1", y(t.entry)).attr("y2", y(t.entry))
      .attr("stroke", "#555").attr("stroke-width", 0.8);
    g.selectAll(".trade-zone").data(t.zones).enter().append("rect").attr("class", "trade-zone")
      .attr("x", d => x(d[0])).attr("width", d => x(d[1]) - x(d[0]))
      .attr("y", d => y(d[3])).attr("height", d => y(d[2]) - y(d[3]))
      .attr("fill", d => zoneStyle[d[4]].fill);
  }

  g.append("g").selectAll("line").data(p.levels).enter().append("line")
    .attr("x1", d => x(d[0])).attr("x2", d => x(d[1]))
    .attr("y1", d => y(d[2])).attr("y2", d => y(d[2]))
    .attr("stroke", d => levelStyle[d[3]].stroke)
    .attr("stroke-width", d => levelStyle[d[3]].w * p.lineScale)
    .attr("stroke-opacity", d => levelStyle[d[3]].o);

  // phase strip
  g.append("g").selectAll("rect").data(p.phases).enter().append("rect")
    .attr("x", d => x(d[0]) + 0.6).attr("width", d => x(d[1]) - x(d[0]) - 1.2)
    .attr("y", y(p.phaseLevel) - p.phaseSize / 2).attr("height", p.phaseSize)
    .attr("fill", d => phaseColor[d[2]]);
  if (p.phaseRule) {
    g.append("g").selectAll("line").data(p.phases).enter().append("line")
      .attr("x1", d => x(d[0])).attr("x2", d => x(d[1]))
      .attr("y1", y(p.phaseLevel)).attr("y2", y(p.phaseLevel))
      .attr("stroke", "#fff").attr("stroke-opacity", 0.65).attr("stroke-width", 1);
  }

  g.append("g").selectAll("circle").data(p.dots).enter().append("circle")
    .attr("cx", d => x(d[0])).attr("cy", d => y(d[1]))
    .attr("r", d => dotStyle[d[2]].r * p.lineScale)
    .attr("fill", d => dotStyle[d[2]].fill);

  // annotations with leader
  const noteG = g.append("g").selectAll("g").data(p.notes || []).enter().append("g");
  noteG.append("line")
    .attr("x1", d => x(d[0]) - 7.6).attr("y1", d => y(d[1]) - 21)
    .attr("x2", d => x(d[0])).attr("y2", d => y(d[1]))
    .attr("stroke", "#444").attr("stroke-width", 1);
  noteG.append("text")
    .attr("x", d => x(d[0]) - 10).attr("y", d => y(d[1]) - 30)
    .attr("text-anchor", "middle").attr("dominant-baseline", "central")
    .attr("font-size", 12).attr("fill", "#2a2a2a").text(d => d[2]);

  if (p.frame) {
    g.append("rect").attr("x", p.left).attr("y", p.top)
      .attr("width", p.right - p.left).attr("height", p.bottom - p.top)
      .attr("fill", "none").attr("stroke", p.frame).attr("stroke-width", 3);
  }
}

const smallX = [-4.85, 73.36];
const smallBase = {xDomain:smallX,left:79.5,right:415,wick:1.3,bodyWidth:1.8,lineScale:0.85,phaseSize:2.4,markX:247.7};

drawPanel({...smallBase,name:"GBPAUD 1mn",top:100,bottom:237,yDomain:[1.5404,2.2153],candles:candles1mn,zones:zones1mn,levels:levels1mn,dots:dots1mn,phases:phases1mn,phaseLevel:1.572,yTicks:ticks1mn,xTicks:xTicks1mn,markY:168});
drawPanel({...smallBase,name:"GBPAUD 1w",top:291,bottom:427.7,yDomain:[1.8339,2.1163],candles:candles1w,zones:zones1w,levels:levels1w,dots:dots1w,phases:phases1w,phaseLevel:1.846,yTicks:ticks1w,xTicks:xTicks1w,markY:359});
drawPanel({...smallBase,name:"GBPAUD 1d",top:481.7,bottom:618,yDomain:[1.84643,1.9477],candles:candles1d,zones:zones1d,levels:levels1d,dots:dots1d,phases:[],phaseLevel:1.85,yTicks:ticks1d,xTicks:xTicks1d,markY:549.8});
drawPanel({...smallBase,name:"GBPAUD 4h",top:672.3,bottom:809.3,yDomain:[1.89765,1.92827],candles:candles4h,zones:zones4h,levels:levels4h,dots:dots4h,phases:phases4h,phaseLevel:1.899,yTicks:ticks4h,xTicks:xTicks4h,markY:740.4});
drawPanel({...smallBase,name:"GBPAUD 1h",top:863.4,bottom:1000,yDomain:[1.90602,1.9275],candles:candles1h,zones:zones1h,levels:levels1h,dots:dots1h,phases:phases1h,phaseLevel:1.907,yTicks:ticks1h,xTicks:xTicks1h,markY:931.9});

drawPanel({name:"GBPAUD 15m",left:468,right:1581,top:100,bottom:427.3,xDomain:[-13.38,115.9],yDomain:[1.90708,1.91553],candles:candles15m,zones:zones15m,levels:levels15m,dots:dots15m,phases:phases15m,phaseLevel:1.90734,phaseSize:10,phaseRule:true,yTicks:ticks15m,xTicks:xTicks15m,notes:notes15m,wick:1.7,bodyWidth:3.9,lineScale:1,markX:1025,markY:264,frame:"rgba(0,0,255,0.5)"});
drawPanel({name:"GBPAUD 5m",left:468,right:1581,top:481.7,bottom:999.7,xDomain:[-15.86,137.2],yDomain:[1.907305,1.912257],candles:candles5m,zones:[],levels:levels5m,dots:dots5m,phases:phases5m,phaseLevel:1.90749,phaseSize:7,yTicks:ticks5m,xTicks:xTicks5m,notes:notes5m,wick:1.7,bodyWidth:3.7,lineScale:1,markX:1024,markY:740.7,frame:"rgba(255,0,0,0.5)",
  trade:{from:tradeFrom,to:tradeTo,entry:entryPrice,stop:stopPrice,target:targetPrice,zones:zones5m}});

svg.append("text").attr("x", 96).attr("y", 50.5).attr("font-size", 17).attr("font-weight", "bold").attr("fill", "#222")
  .text("TITRE : YDI 5m || Strategie : YDI || Symbol : GBPAUD || TimeFrame : 5m");

svg.append("g").selectAll("text").data(reportLines).enter().append("text")
  .attr("x", (d, i) => 1482 + (reportIndent[i] || 0))
  .attr("y", (d, i) => 89 + i * 12.354)
  .attr("dominant-baseline", "central").attr("xml:space", "preserve").style("white-space", "pre")
  .attr("font-size", 9.5).attr("fill", "#222").text(d => d);
</script>
</body>
</html>
